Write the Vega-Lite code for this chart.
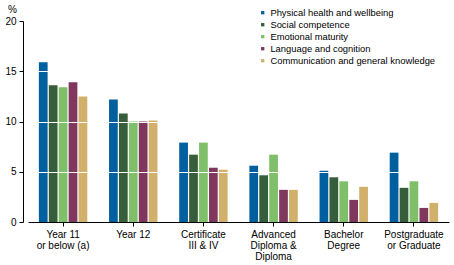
{
  "$schema": "https://vega.github.io/schema/vega-lite/v6.json",
  "autosize": "none",
  "width": 421,
  "height": 201,
  "padding": {"left": 28, "top": 21, "right": 5, "bottom": 43},
  "background": "white",
  "config": {"view": {"stroke": null}, "font": "Liberation Sans"},
  "data": {"values": [
    {"edu": "Year 11|or below (a)", "s": "Physical health and wellbeing", "v": 15.9},
    {"edu": "Year 11|or below (a)", "s": "Social competence", "v": 13.6},
    {"edu": "Year 11|or below (a)", "s": "Emotional maturity", "v": 13.4},
    {"edu": "Year 11|or below (a)", "s": "Language and cognition", "v": 13.9},
    {"edu": "Year 11|or below (a)", "s": "Communication and general knowledge", "v": 12.5},
    {"edu": "Year 12", "s": "Physical health and wellbeing", "v": 12.2},
    {"edu": "Year 12", "s": "Social competence", "v": 10.8},
    {"edu": "Year 12", "s": "Emotional maturity", "v": 10.0},
    {"edu": "Year 12", "s": "Language and cognition", "v": 10.0},
    {"edu": "Year 12", "s": "Communication and general knowledge", "v": 10.1},
    {"edu": "Certificate|III & IV", "s": "Physical health and wellbeing", "v": 7.9},
    {"edu": "Certificate|III & IV", "s": "Social competence", "v": 6.7},
    {"edu": "Certificate|III & IV", "s": "Emotional maturity", "v": 7.9},
    {"edu": "Certificate|III & IV", "s": "Language and cognition", "v": 5.4},
    {"edu": "Certificate|III & IV", "s": "Communication and general knowledge", "v": 5.2},
    {"edu": "Advanced|Diploma &|Diploma", "s": "Physical health and wellbeing", "v": 5.6},
    {"edu": "Advanced|Diploma &|Diploma", "s": "Social competence", "v": 4.65},
    {"edu": "Advanced|Diploma &|Diploma", "s": "Emotional maturity", "v": 6.7},
    {"edu": "Advanced|Diploma &|Diploma", "s": "Language and cognition", "v": 3.2},
    {"edu": "Advanced|Diploma &|Diploma", "s": "Communication and general knowledge", "v": 3.2},
    {"edu": "Bachelor|Degree", "s": "Physical health and wellbeing", "v": 5.1},
    {"edu": "Bachelor|Degree", "s": "Social competence", "v": 4.45},
    {"edu": "Bachelor|Degree", "s": "Emotional maturity", "v": 4.05},
    {"edu": "Bachelor|Degree", "s": "Language and cognition", "v": 2.2},
    {"edu": "Bachelor|Degree", "s": "Communication and general knowledge", "v": 3.5},
    {"edu": "Postgraduate|or Graduate", "s": "Physical health and wellbeing", "v": 6.9},
    {"edu": "Postgraduate|or Graduate", "s": "Social competence", "v": 3.4},
    {"edu": "Postgraduate|or Graduate", "s": "Emotional maturity", "v": 4.05},
    {"edu": "Postgraduate|or Graduate", "s": "Language and cognition", "v": 1.4},
    {"edu": "Postgraduate|or Graduate", "s": "Communication and general knowledge", "v": 1.9}
  ]},
  "mark": {"type": "bar"},
  "encoding": {
    "x": {
      "field": "edu", "type": "nominal", "sort": null,
      "scale": {"paddingInner": 0.31, "paddingOuter": 0.155},
      "axis": {
        "title": null, "labelAngle": 0, "labelExpr": "split(datum.label, '|')",
        "labelFont": "Liberation Sans", "labelFontSize": 10, "labelColor": "black",
        "labelLineHeight": 11, "labelPadding": 3,
        "domainColor": "black", "tickColor": "black", "tickSize": 4, "grid": false
      }
    },
    "xOffset": {
      "field": "s", "type": "nominal", "sort": null,
      "scale": {"paddingInner": 0.12}
    },
    "y": {
      "field": "v", "type": "quantitative",
      "scale": {"domain": [0, 20], "nice": false},
      "axis": {
        "title": "%", "titleAngle": 0, "titleX": -11, "titleY": -7, "titleAlign": "center",
        "titleFont": "Liberation Sans", "titleFontSize": 10, "titleFontWeight": "normal", "titleColor": "black",
        "values": [0, 5, 10, 15, 20], "offset": 5,
        "labelFont": "Liberation Sans", "labelFontSize": 10, "labelColor": "black", "labelPadding": 3,
        "domainColor": "black", "tickColor": "black", "tickSize": 4,
        "grid": true, "gridColor": "white", "gridWidth": 1.2,
        "gridOpacity": {"condition": {"test": "datum.value == 0 || datum.value == 20", "value": 0}, "value": 1},
        "zindex": 1
      }
    },
    "color": {
      "field": "s", "type": "nominal", "sort": null,
      "scale": {
        "domain": ["Physical health and wellbeing", "Social competence", "Emotional maturity", "Language and cognition", "Communication and general knowledge"],
        "range": ["#005f9e", "#375e3a", "#7fbf69", "#7f375e", "#d0b06a"]
      },
      "legend": {
        "title": null, "orient": "none", "legendX": 230, "legendY": -13,
        "symbolType": "square", "symbolSize": 11, "symbolStrokeWidth": 0,
        "labelFont": "Liberation Sans", "labelFontSize": 9.4, "labelColor": "black",
        "rowPadding": 1, "labelOffset": 3, "labelLimit": 300
      }
    }
  }
}
